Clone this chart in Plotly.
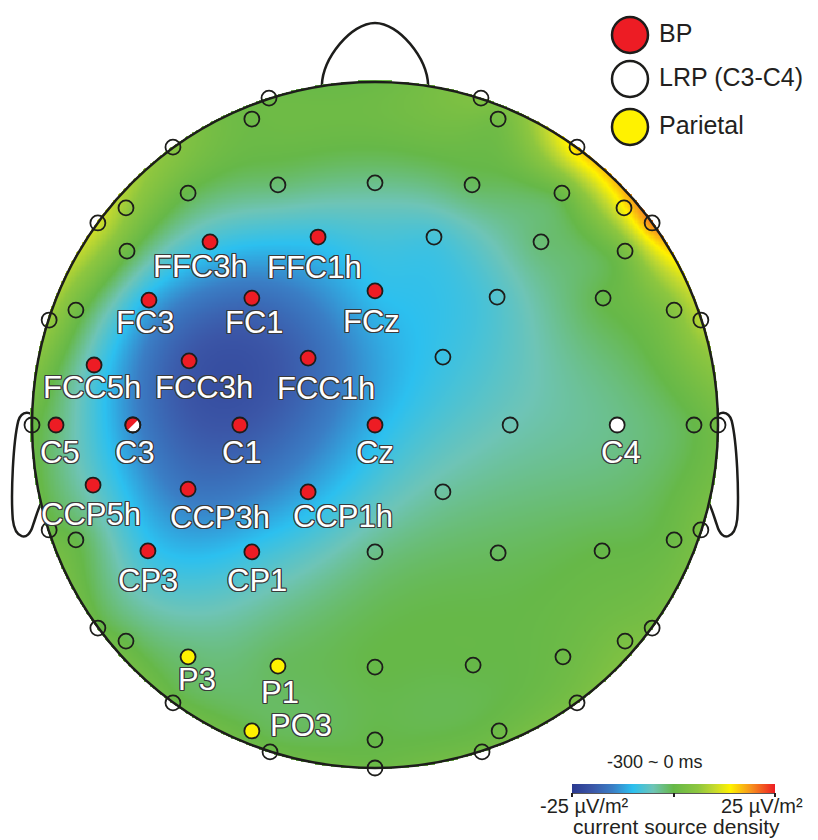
import numpy as np
import plotly.graph_objects as go

# ---- electrode montage (head-radius units, nose up) ----
names = ["Fp1", "AF3", "AF7", "F7", "F5", "F3", "F1", "Fz", "F2", "F4", "F6", "F8", "AF8", "AF4", "Fp2",
         "FFC5h", "FFC3h", "FFC1h", "FFC2h", "FFC4h", "FFC6h",
         "FT7", "FC5", "FC3", "FC1", "FCz", "FC2", "FC4", "FC6", "FT8",
         "FCC5h", "FCC3h", "FCC1h", "FCC2h",
         "T7", "C5", "C3", "C1", "Cz", "C2", "C4", "C6", "T8",
         "CCP5h", "CCP3h", "CCP1h", "CCP2h",
         "TP7", "CP5", "CP3", "CP1", "CPz", "CP2", "CP4", "CP6", "TP8",
         "P7", "P5", "P3", "P1", "Pz", "P2", "P4", "P6", "P8",
         "PO7", "PO3", "POz", "PO4", "PO8",
         "O1", "Oz", "O2"]

ex = [-0.309, -0.359, -0.589, -0.808, -0.726, -0.545, -0.283, 0.0, 0.283, 0.545, 0.726, 0.808, 0.589, 0.359, 0.309,
      -0.723, -0.481, -0.166, 0.172, 0.484, 0.729,
      -0.950, -0.872, -0.659, -0.359, 0.0, 0.356, 0.665, 0.872, 0.950,
      -0.819, -0.542, -0.195, 0.198,
      -1.0, -0.930, -0.706, -0.394, 0.0, 0.394, 0.706, 0.930, 1.0,
      -0.822, -0.545, -0.195, 0.198,
      -0.950, -0.872, -0.662, -0.359, 0.0, 0.359, 0.662, 0.872, 0.950,
      -0.808, -0.726, -0.545, -0.283, 0.0, 0.286, 0.548, 0.729, 0.808,
      -0.589, -0.359, 0.0, 0.362, 0.589,
      -0.306, 0.0, 0.312]

ey = [0.953, 0.892, 0.810, 0.589, 0.633, 0.676, 0.700, 0.706, 0.700, 0.676, 0.633, 0.589, 0.810, 0.892, 0.953,
      0.507, 0.534, 0.548, 0.548, 0.534, 0.507,
      0.306, 0.335, 0.364, 0.370, 0.391, 0.373, 0.370, 0.335, 0.306,
      0.175, 0.187, 0.195, 0.198,
      0.0, 0.0, 0.0, 0.0, 0.0, 0.0, 0.0, 0.0, 0.0,
      -0.175, -0.187, -0.195, -0.195,
      -0.306, -0.335, -0.367, -0.370, -0.370, -0.373, -0.367, -0.335, -0.306,
      -0.592, -0.630, -0.676, -0.703, -0.706, -0.700, -0.676, -0.630, -0.592,
      -0.810, -0.892, -0.918, -0.892, -0.810,
      -0.953, -1.0, -0.953]

# current source density, mean over -300 ~ 0 ms (µV/m²)
csd = [1, 1, 5, 11, 7, 0, -2, -3, -1, 1, 14, 20, 16, 2, 4,
       1, -8, -9, -8, -2, 3,
       7, 2, -11, -17, -10, -7, 0, 5, 9,
       -7, -20, -18, -9,
       1, -2, -14, -20, -11, -5, -3, 0, 2,
       -6, -16, -12, -4,
       1, 0, -9, -9, -3, -1, 0, 1, 3,
       1, 0, -2, -1, 0, 0, 1, 3, 3,
       1, 0, 0, 1, 3,
       1, 1, 2]

bp_sites = ["FFC3h", "FFC1h", "FC3", "FC1", "FCz", "FCC5h", "FCC3h", "FCC1h",
            "C5", "C1", "Cz", "CCP5h", "CCP3h", "CCP1h", "CP3", "CP1"]
lrp_sites = ["C4"]
shared_sites = ["C3"]            # belongs to both BP and LRP
parietal_sites = ["P3", "P1", "PO3"]

cbar_range = [-25, 25]
legend_labels = ["BP", "LRP (C3-C4)", "Parietal"]

# ---- canvas geometry ----
W, H = 818, 840
CX, CY, RPX = 375, 425, 343          # head centre / radius in pixels


def px_x(px):
    return px / W


def px_y(py):
    return 1 - py / H


# label offsets from the electrode, in pixels (right, down)
label_offset = {
    "FFC3h": (-10, 25), "FFC1h": (-4, 30), "FC3": (-3, 22), "FC1": (3, 24), "FCz": (-4, 31),
    "FCC5h": (-2, 23), "FCC3h": (15, 27), "FCC1h": (18, 30),
    "C5": (4, 27), "C3": (2, 27), "C1": (2, 27), "Cz": (0, 27), "C4": (4, 27),
    "CCP5h": (-2, 29), "CCP3h": (32, 28), "CCP1h": (35, 25),
    "CP3": (0, 30), "CP1": (5, 29),
    "P3": (9, 23), "P1": (2, 26), "PO3": (49, -5),
}

# ---- biharmonic spline interpolation of the CSD map ----
ex_a, ey_a, v_a = np.array(ex), np.array(ey), np.array(csd, float)


def green(r):
    out = np.zeros_like(r)
    nz = r > 0
    out[nz] = r[nz] ** 2 * (np.log(r[nz]) - 1)
    return out


D = np.hypot(ex_a[:, None] - ex_a[None, :], ey_a[:, None] - ey_a[None, :])
wts = np.linalg.solve(green(D), v_a)

g = np.linspace(-1.01, 1.01, 561)
GX, GY = np.meshgrid(g, g)
Z = np.zeros_like(GX)
for xi, yi, wi in zip(ex_a, ey_a, wts):
    Z += wi * green(np.hypot(GX - xi, GY - yi))
Z = np.clip(Z, *cbar_range)
Z[np.hypot(GX, GY) > 1.004] = np.nan

colorscale = [
    [0.00, "#2b3990"], [0.10, "#3b56a7"], [0.20, "#3a7ec5"], [0.30, "#2cc0ef"],
    [0.40, "#6ec4b6"], [0.50, "#66b848"], [0.62, "#8dc63f"], [0.70, "#c3d92f"],
    [0.78, "#fff200"], [0.88, "#f7941d"], [1.00, "#ed1c24"],
]

fig = go.Figure()

fig.add_trace(go.Heatmap(
    x=g, y=g, z=Z, zmin=cbar_range[0], zmax=cbar_range[1], zsmooth=False,
    colorscale=colorscale, hoverinfo="skip",
    colorbar=dict(
        orientation="h", xref="paper", yref="paper",
        x=px_x(673.5), xanchor="center", y=px_y(784), yanchor="top",
        len=203, lenmode="pixels", thickness=9, thicknessmode="pixels",
        outlinewidth=0, xpad=0, ypad=0,
        tickvals=[-25, 0, 25], ticks="outside", ticklen=4, tickwidth=1.5,
        tickcolor="#231f20", showticklabels=False,
    ),
))


def sel(group):
    idx = [names.index(n) for n in group]
    return [ex[i] for i in idx], [ey[i] for i in idx]


others = [n for n in names if n not in bp_sites + lrp_sites + shared_sites + parietal_sites]
MS, LW = 15, 1.8
edge = "#1d1d1b"

ox, oy = sel(others)
fig.add_trace(go.Scatter(x=ox, y=oy, mode="markers", hoverinfo="skip", showlegend=False,
                         marker=dict(size=MS, color="rgba(0,0,0,0)", line=dict(color=edge, width=LW))))
bx, by = sel(bp_sites)
fig.add_trace(go.Scatter(x=bx, y=by, mode="markers", name=legend_labels[0], showlegend=False,
                         marker=dict(size=MS, color="#ed1c24", line=dict(color=edge, width=LW))))
lx, ly = sel(lrp_sites + shared_sites)
fig.add_trace(go.Scatter(x=lx, y=ly, mode="markers", name=legend_labels[1], showlegend=False,
                         marker=dict(size=MS, color="#ffffff", line=dict(color=edge, width=LW))))
px_, py_ = sel(parietal_sites)
fig.add_trace(go.Scatter(x=px_, y=py_, mode="markers", name=legend_labels[2], showlegend=False,
                         marker=dict(size=MS, color="#fff200", line=dict(color=edge, width=LW))))

# C3: half BP (red), half LRP (white)
sx, sy = sel(shared_sites)
rr = (MS / 2) / RPX
ang = np.radians(np.linspace(45, 225, 40))
fig.add_trace(go.Scatter(x=sx[0] + rr * np.cos(ang), y=sy[0] + rr * np.sin(ang), mode="lines",
                         fill="toself", fillcolor="#ed1c24", line=dict(width=0),
                         hoverinfo="skip", showlegend=False))
fig.add_trace(go.Scatter(x=sx, y=sy, mode="markers", hoverinfo="skip", showlegend=False,
                         marker=dict(size=MS, color="rgba(0,0,0,0)", line=dict(color=edge, width=LW))))

# ---- electrode labels ----
shadow = ", ".join(f"{a}px {b}px 0 #3a3a3a" for a, b in
                   [(-1, -1), (1, -1), (-1, 1), (1, 1), (0, 1), (0, -1), (1, 0), (-1, 0)])
annotations = []
for n in bp_sites + shared_sites + lrp_sites + parietal_sites:
    i = names.index(n)
    dx, dy = label_offset[n]
    annotations.append(dict(
        x=ex[i], y=ey[i], xref="x", yref="y", text=n, showarrow=False,
        xshift=dx, yshift=-dy, xanchor="center", yanchor="middle",
        font=dict(family="Liberation Sans, Arial, sans-serif", size=31, color="white", shadow=shadow),
    ))

# ---- head outline, nose, ears ----
shapes = []
nose = "M -0.155,0.97 L -0.155,0.99 C -0.152,1.07 -0.07,1.172 0,1.172 C 0.07,1.172 0.152,1.07 0.155,0.99 L 0.155,0.97 Z"
shapes.append(dict(type="path", path=nose, xref="x", yref="y", layer="below",
                   fillcolor="white", line=dict(color="#1d1d1b", width=2.5)))


def ear(sign):
    pts = [(0.995, 0.020), (1.000, 0.040), (1.030, 0.045), (1.040, 0.012),
           (1.055, -0.050), (1.062, -0.200), (1.056, -0.275),
           (1.050, -0.330), (1.012, -0.345), (0.997, -0.292),
           (0.990, -0.272), (0.984, -0.250), (0.974, -0.228)]
    f = lambda p: f"{sign * p[0]:.3f},{p[1]:.3f}"
    d = "M " + f(pts[0])
    for k in range(1, 13, 3):
        d += " C " + " ".join(f(p) for p in pts[k:k + 3])
    d += f" L {sign * 0.9:.3f},-0.2 L {sign * 0.9:.3f},0.0 Z"
    return d


for s in (1, -1):
    shapes.append(dict(type="path", path=ear(s), xref="x", yref="y", layer="below",
                       fillcolor="white", line=dict(color="#1d1d1b", width=2.5)))

shapes.append(dict(type="circle", xref="x", yref="y", x0=-1, x1=1, y0=-1, y1=1,
                   line=dict(color="#1d1d1b", width=2.5), layer="above"))

# colour-bar base line
shapes.append(dict(type="line", xref="paper", yref="paper", x0=px_x(572), x1=px_x(775),
                   y0=px_y(793), y1=px_y(793), line=dict(color="#231f20", width=1.5)))

# ---- legend ----
txt_font = dict(family="Liberation Sans, Arial, sans-serif", color="#231f20")
leg_y = [35, 79, 127]
leg_fill = ["#ed1c24", "#ffffff", "#fff200"]
for yy, fc, lab in zip(leg_y, leg_fill, legend_labels):
    r = 18
    shapes.append(dict(type="circle", xref="paper", yref="paper",
                       x0=px_x(630 - r), x1=px_x(630 + r), y0=px_y(yy + r), y1=px_y(yy - r),
                       fillcolor=fc, line=dict(color="#1d1d1b", width=2.5), layer="above"))
    annotations.append(dict(x=px_x(657), y=px_y(yy - 2), xref="paper", yref="paper", text=lab,
                            showarrow=False, xanchor="left", yanchor="middle",
                            font=dict(size=25, **txt_font)))

# ---- colour-bar texts ----
annotations += [
    dict(x=px_x(655), y=px_y(762), text="-300 ~ 0 ms", font=dict(size=18, **txt_font)),
    dict(x=px_x(584), y=px_y(806), text="-25 µV/m²", font=dict(size=20, **txt_font)),
    dict(x=px_x(762), y=px_y(806), text="25 µV/m²", font=dict(size=20, **txt_font)),
    dict(x=px_x(676), y=px_y(826), text="current source density", font=dict(size=21, **txt_font)),
]
for a in annotations[-4:]:
    a.update(xref="paper", yref="paper", showarrow=False, xanchor="center", yanchor="middle")

fig.update_layout(
    width=W, height=H, margin=dict(l=0, r=0, t=0, b=0),
    paper_bgcolor="white", plot_bgcolor="rgba(0,0,0,0)",
    xaxis=dict(range=[-CX / RPX, (W - CX) / RPX], visible=False, fixedrange=True),
    yaxis=dict(range=[(CY - H) / RPX, CY / RPX], visible=False, fixedrange=True),
    shapes=shapes, annotations=annotations, showlegend=False,
)

fig.write_html("out.html")
